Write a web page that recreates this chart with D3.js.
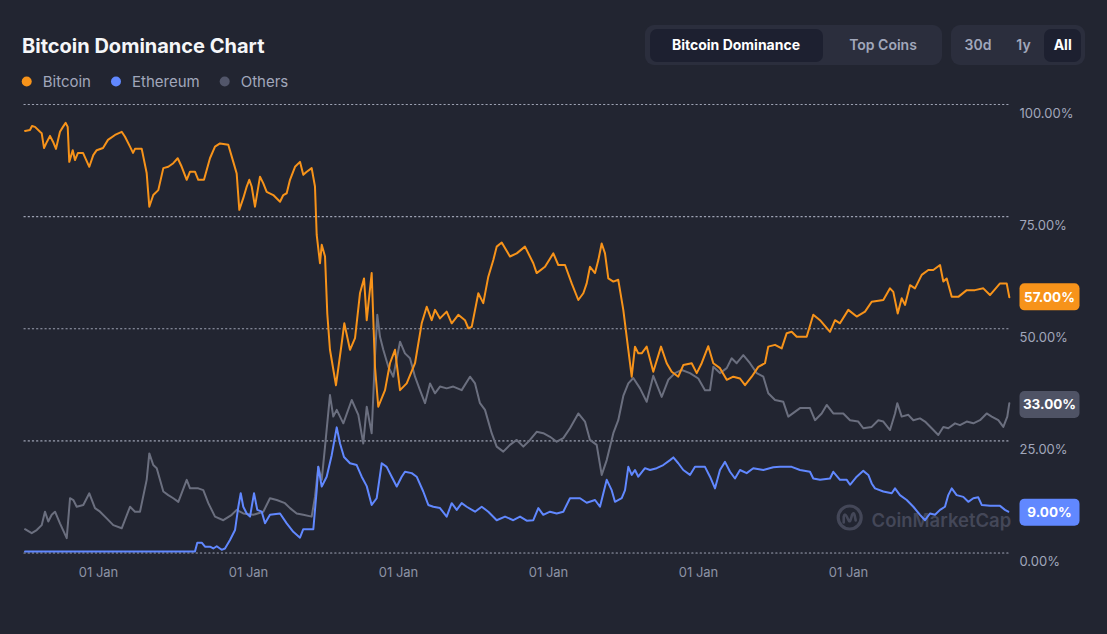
<!DOCTYPE html>
<html><head><meta charset="utf-8">
<script src="https://cdn.jsdelivr.net/npm/d3@7"></script>
<style>
html,body{margin:0;padding:0;background:#222531;}
svg{display:block;font-family:Inter,"Noto Sans",sans-serif;}
</style></head><body>
<svg id="chart" width="1107" height="634"></svg>
<script>
// ---------- DATA (decimal year, dominance %) ----------
const seriesNames = ["Bitcoin", "Ethereum", "Others"];
const bitcoin = [
[2013.027,94.0],[2013.093,94.2],[2013.120,95.1],[2013.160,94.9],[2013.227,93.8],[2013.249,93.5],[2013.280,90.2],[2013.320,91.6],[2013.360,92.9],[2013.400,91.6],[2013.440,90.0],[2013.493,93.8],[2013.533,94.9],[2013.569,95.8],[2013.596,94.9],[2013.617,87.1],[2013.663,89.7],[2013.693,87.5],[2013.733,89.1],[2013.800,89.1],[2013.884,86.0],[2013.937,88.6],[2013.983,89.7],[2014.067,90.2],[2014.133,92.0],[2014.227,93.1],[2014.316,93.8],[2014.360,92.7],[2014.427,90.5],[2014.467,89.1],[2014.493,90.0],[2014.583,90.0],[2014.649,84.6],[2014.684,77.1],[2014.737,79.7],[2014.804,80.8],[2014.871,85.7],[2014.937,86.0],[2015.004,86.8],[2015.063,87.9],[2015.116,86.0],[2015.183,83.1],[2015.227,84.9],[2015.293,84.9],[2015.337,83.1],[2015.413,83.1],[2015.493,87.9],[2015.560,90.5],[2015.627,91.2],[2015.737,90.9],[2015.804,87.1],[2015.849,84.5],[2015.884,76.4],[2015.937,79.0],[2015.983,81.6],[2016.017,83.1],[2016.049,81.6],[2016.093,77.1],[2016.160,83.8],[2016.204,82.3],[2016.249,80.4],[2016.337,79.7],[2016.427,78.2],[2016.471,79.7],[2016.516,80.1],[2016.560,83.1],[2016.627,86.0],[2016.693,87.1],[2016.737,84.2],[2016.783,84.9],[2016.849,85.7],[2016.893,81.6],[2016.916,70.8],[2016.960,64.5],[2016.983,68.6],[2017.027,66.0],[2017.057,53.3],[2017.093,45.2],[2017.173,37.3],[2017.249,46.6],[2017.284,51.1],[2017.360,45.2],[2017.427,47.8],[2017.493,57.8],[2017.547,61.1],[2017.583,51.8],[2017.649,62.3],[2017.693,41.4],[2017.737,32.5],[2017.827,36.2],[2017.893,42.2],[2017.960,45.2],[2018.027,36.2],[2018.116,37.7],[2018.227,42.2],[2018.316,51.1],[2018.383,54.8],[2018.449,51.8],[2018.493,54.1],[2018.560,52.2],[2018.649,53.7],[2018.716,51.1],[2018.804,53.0],[2018.893,51.8],[2018.937,50.0],[2018.983,50.3],[2019.071,57.8],[2019.137,55.6],[2019.204,61.5],[2019.271,65.2],[2019.316,68.2],[2019.383,69.1],[2019.493,66.0],[2019.583,66.7],[2019.693,68.2],[2019.804,64.5],[2019.849,62.3],[2019.960,63.7],[2020.071,66.7],[2020.137,64.1],[2020.227,64.1],[2020.316,60.0],[2020.404,56.3],[2020.471,57.8],[2020.516,60.0],[2020.560,63.7],[2020.627,62.3],[2020.671,65.2],[2020.716,68.9],[2020.760,66.7],[2020.804,61.1],[2020.871,60.4],[2020.937,60.8],[2021.004,54.1],[2021.071,45.2],[2021.116,39.2],[2021.160,45.9],[2021.204,44.4],[2021.249,44.4],[2021.316,45.9],[2021.404,40.3],[2021.507,45.9],[2021.583,42.2],[2021.649,40.3],[2021.737,39.2],[2021.804,41.8],[2021.916,42.2],[2021.983,40.0],[2022.049,42.2],[2022.137,46.0],[2022.204,42.2],[2022.293,41.1],[2022.383,38.5],[2022.471,39.2],[2022.560,38.8],[2022.627,37.3],[2022.716,39.2],[2022.804,41.4],[2022.893,42.2],[2022.937,45.9],[2023.027,46.3],[2023.116,45.5],[2023.183,48.9],[2023.249,49.2],[2023.316,48.1],[2023.449,48.1],[2023.537,53.0],[2023.627,51.8],[2023.760,49.2],[2023.827,51.8],[2023.893,51.1],[2024.004,54.1],[2024.116,52.6],[2024.227,53.7],[2024.316,55.9],[2024.471,56.3],[2024.560,58.9],[2024.604,58.1],[2024.663,53.3],[2024.716,56.7],[2024.760,55.2],[2024.827,59.6],[2024.893,58.9],[2024.983,61.9],[2025.071,63.0],[2025.137,63.0],[2025.227,64.1],[2025.271,60.4],[2025.316,61.1],[2025.383,57.0],[2025.471,57.0],[2025.583,58.5],[2025.693,58.5],[2025.804,58.9],[2025.893,57.4],[2026.027,60.0],[2026.116,60.0],[2026.151,56.9]
];
const ethereum = [
[2013.027,0.2],[2015.293,0.2],[2015.324,2.2],[2015.383,2.2],[2015.427,1.3],[2015.493,1.3],[2015.537,0.9],[2015.583,1.4],[2015.649,0.6],[2015.693,0.9],[2015.760,2.8],[2015.827,5.0],[2015.871,10.2],[2015.903,13.2],[2015.937,10.2],[2015.983,8.7],[2016.027,8.0],[2016.080,13.2],[2016.124,9.5],[2016.183,9.1],[2016.227,6.5],[2016.293,8.4],[2016.427,8.7],[2016.516,6.5],[2016.604,4.6],[2016.693,3.3],[2016.737,5.2],[2016.871,5.2],[2016.916,13.9],[2016.937,19.1],[2016.983,14.7],[2017.049,16.9],[2017.116,21.7],[2017.183,27.9],[2017.227,24.3],[2017.280,21.3],[2017.360,19.9],[2017.449,19.5],[2017.516,16.9],[2017.583,14.8],[2017.649,10.6],[2017.716,12.1],[2017.783,19.9],[2017.849,19.1],[2017.916,16.9],[2017.983,14.7],[2018.049,16.9],[2018.093,18.0],[2018.183,17.7],[2018.249,16.9],[2018.337,13.6],[2018.404,10.6],[2018.471,10.2],[2018.560,9.9],[2018.649,8.0],[2018.716,11.0],[2018.783,9.5],[2018.849,11.0],[2018.916,10.2],[2019.027,9.1],[2019.116,10.2],[2019.204,9.1],[2019.316,7.2],[2019.427,8.0],[2019.537,7.2],[2019.627,8.0],[2019.716,7.1],[2019.804,7.2],[2019.871,9.9],[2019.937,8.4],[2020.027,9.1],[2020.116,8.7],[2020.204,9.1],[2020.293,12.1],[2020.427,12.1],[2020.516,11.1],[2020.627,11.7],[2020.693,10.2],[2020.783,16.2],[2020.849,13.9],[2020.893,11.3],[2020.983,12.1],[2021.027,13.9],[2021.071,19.1],[2021.116,17.3],[2021.160,18.4],[2021.204,16.9],[2021.293,18.8],[2021.360,18.4],[2021.449,18.8],[2021.537,19.5],[2021.627,20.6],[2021.671,21.2],[2021.737,19.9],[2021.804,18.4],[2021.893,17.3],[2021.960,19.1],[2022.093,19.1],[2022.160,16.9],[2022.227,14.3],[2022.293,18.4],[2022.360,20.2],[2022.427,18.0],[2022.493,16.5],[2022.560,18.4],[2022.649,17.7],[2022.737,18.8],[2022.871,18.4],[2023.004,19.0],[2023.093,19.1],[2023.249,19.1],[2023.360,18.4],[2023.493,18.0],[2023.537,16.5],[2023.627,16.2],[2023.760,16.5],[2023.804,18.0],[2023.893,16.2],[2023.983,16.2],[2024.027,15.1],[2024.116,16.9],[2024.204,18.2],[2024.271,17.3],[2024.316,15.4],[2024.360,14.3],[2024.471,13.6],[2024.583,13.2],[2024.627,14.3],[2024.693,12.8],[2024.783,11.7],[2024.871,10.2],[2024.960,8.4],[2025.027,7.2],[2025.093,8.7],[2025.160,8.4],[2025.227,9.5],[2025.293,10.2],[2025.337,12.8],[2025.383,14.3],[2025.449,12.8],[2025.537,12.4],[2025.604,11.3],[2025.671,12.1],[2025.737,12.3],[2025.783,10.6],[2025.893,10.4],[2026.027,10.4],[2026.093,9.5],[2026.137,9.1]
];
const others = [
[2013.027,5.2],[2013.116,4.3],[2013.183,5.0],[2013.249,6.1],[2013.293,9.1],[2013.337,6.9],[2013.383,8.4],[2013.427,9.1],[2013.493,6.5],[2013.583,3.2],[2013.627,12.1],[2013.671,11.7],[2013.716,10.2],[2013.804,10.6],[2013.884,13.2],[2013.960,9.9],[2014.027,9.1],[2014.116,7.6],[2014.204,6.1],[2014.316,5.4],[2014.427,10.2],[2014.493,9.1],[2014.560,9.1],[2014.649,16.2],[2014.684,22.1],[2014.737,19.5],[2014.783,18.8],[2014.871,13.6],[2014.937,12.8],[2015.004,12.1],[2015.071,11.3],[2015.183,16.2],[2015.227,14.3],[2015.337,14.3],[2015.404,13.9],[2015.471,11.0],[2015.560,8.0],[2015.671,7.2],[2015.783,8.4],[2015.849,9.5],[2015.937,8.7],[2016.071,8.4],[2016.204,9.1],[2016.293,12.1],[2016.383,11.7],[2016.493,11.0],[2016.560,9.9],[2016.649,8.7],[2016.737,8.4],[2016.849,8.0],[2016.893,12.4],[2016.937,19.1],[2016.983,16.2],[2017.027,23.6],[2017.093,35.1],[2017.137,30.3],[2017.183,31.8],[2017.271,28.8],[2017.383,34.0],[2017.471,30.7],[2017.537,24.3],[2017.583,32.5],[2017.649,26.6],[2017.693,43.7],[2017.724,53.0],[2017.760,48.1],[2017.804,45.2],[2017.871,41.4],[2017.937,39.2],[2018.027,47.0],[2018.093,44.4],[2018.160,43.3],[2018.227,39.2],[2018.293,36.2],[2018.360,33.3],[2018.427,37.7],[2018.493,35.5],[2018.560,37.0],[2018.649,36.6],[2018.737,37.0],[2018.849,36.2],[2018.960,39.2],[2019.027,37.7],[2019.093,33.3],[2019.160,31.8],[2019.249,26.6],[2019.316,23.6],[2019.404,22.5],[2019.493,24.0],[2019.583,25.1],[2019.671,23.6],[2019.760,25.1],[2019.849,26.9],[2019.937,26.6],[2020.027,25.8],[2020.116,24.7],[2020.204,25.5],[2020.293,27.7],[2020.404,31.0],[2020.493,29.2],[2020.560,25.1],[2020.649,24.0],[2020.716,17.3],[2020.783,20.6],[2020.871,26.6],[2020.937,29.5],[2021.004,34.9],[2021.071,37.7],[2021.137,38.9],[2021.227,36.6],[2021.316,33.6],[2021.404,39.4],[2021.516,34.7],[2021.604,38.5],[2021.693,40.0],[2021.783,40.7],[2021.893,40.0],[2022.004,38.8],[2022.093,36.2],[2022.160,36.2],[2022.204,41.4],[2022.293,40.0],[2022.383,41.1],[2022.449,43.3],[2022.516,42.2],[2022.604,44.0],[2022.693,42.2],[2022.783,40.0],[2022.871,39.2],[2022.937,35.5],[2023.027,34.0],[2023.137,33.6],[2023.204,30.3],[2023.360,32.2],[2023.493,32.2],[2023.560,29.5],[2023.649,31.0],[2023.716,32.9],[2023.804,31.0],[2023.937,31.0],[2024.027,29.5],[2024.137,29.2],[2024.204,27.7],[2024.316,28.0],[2024.404,29.5],[2024.471,29.2],[2024.560,27.3],[2024.627,31.0],[2024.657,33.3],[2024.716,30.3],[2024.804,30.7],[2024.871,29.5],[2024.960,29.9],[2025.027,29.2],[2025.116,27.7],[2025.204,26.2],[2025.271,28.0],[2025.337,27.7],[2025.427,28.8],[2025.493,28.4],[2025.583,29.2],[2025.671,28.8],[2025.760,29.5],[2025.849,31.0],[2025.916,30.3],[2026.004,29.5],[2026.071,28.0],[2026.124,30.3],[2026.151,33.3]
];
const latestValues = [57, 9, 33];
const yTicks = [0, 25, 50, 75, 100];
const xTicks = [2014, 2016, 2018, 2020, 2022, 2024];
const xTickLabels = ["01 Jan", "01 Jan", "01 Jan", "01 Jan", "01 Jan", "01 Jan"];
const tabLabels = ["Bitcoin Dominance", "Top Coins"];
const rangeLabels = ["30d", "1y", "All"];
const titleText = "Bitcoin Dominance Chart";

// ---------- STYLE ----------
const colors = {Bitcoin: "#f7931a", Ethereum: "#6188ff", Others: "#6b6f7f"};
const dotColors = {Bitcoin: "#f7931a", Ethereum: "#6188ff", Others: "#52566a"};
const badgeColors = {Bitcoin: "#f7931a", Ethereum: "#6188ff", Others: "#4f5365"};
const seriesData = {Bitcoin: bitcoin, Ethereum: ethereum, Others: others};

const svg = d3.select("#chart");
svg.append("rect").attr("width", 1107).attr("height", 634).attr("fill", "#222531");

const x = d3.scaleLinear().domain([2013, 2026.2]).range([23, 1013]);
const y = d3.scaleLinear().domain([0, 100]).range([552.5, 104]);
const plotL = 24, plotR = 1008;

// Title
svg.append("text").attr("x", 22).attr("y", 52.5).text(titleText)
  .attr("fill", "#f5f6f8").attr("font-size", 20).attr("font-weight", 700);

// Legend
let cursor = 21.7;
seriesNames.forEach(n => {
  const cx = cursor + 5;
  svg.append("circle").attr("cx", cx).attr("cy", 81.5).attr("r", 5).attr("fill", dotColors[n]);
  const t = svg.append("text").attr("x", cx + 16).attr("y", 86.5).text(n)
    .attr("fill", "#a1a7bb").attr("font-size", 15);
  cursor = cx + 16 + t.node().getComputedTextLength() + 20;
});

// Tabs
const tabG = svg.append("g");
tabG.append("rect").attr("x", 645).attr("y", 25).attr("width", 297).attr("height", 40).attr("rx", 9).attr("fill", "#2b2e3d");
tabG.append("rect").attr("x", 650).attr("y", 29).attr("width", 173).attr("height", 33).attr("rx", 7).attr("fill", "#1d2030");
const tabCenters = [736, 883];
tabLabels.forEach((l, i) => {
  tabG.append("text").attr("x", tabCenters[i]).attr("y", 50).attr("text-anchor", "middle").text(l)
    .attr("font-size", 14).attr("font-weight", i === 0 ? 700 : 600)
    .attr("fill", i === 0 ? "#ffffff" : "#a1a7bb");
});
tabG.append("rect").attr("x", 951).attr("y", 25).attr("width", 134).attr("height", 40).attr("rx", 9).attr("fill", "#2b2e3d");
tabG.append("rect").attr("x", 1044).attr("y", 29).attr("width", 37).attr("height", 33).attr("rx", 7).attr("fill", "#1d2030");
const rangeCenters = [978, 1023.5, 1062.7];
rangeLabels.forEach((l, i) => {
  tabG.append("text").attr("x", rangeCenters[i]).attr("y", 50).attr("text-anchor", "middle").text(l)
    .attr("font-size", 14).attr("font-weight", i === 2 ? 700 : 600)
    .attr("fill", i === 2 ? "#ffffff" : "#a1a7bb");
});

// Y axis with dotted grid
const yAxis = d3.axisRight(y).tickValues(yTicks)
  .tickFormat(d => d.toFixed(2) + "%").tickSize(-(plotR - plotL)).tickPadding(11.5);
const yg = svg.append("g").attr("transform", `translate(${plotR},0)`).call(yAxis);
yg.select(".domain").remove();
yg.selectAll(".tick line").attr("stroke", "#9ea3b4").attr("stroke-width", 1.2)
  .attr("stroke-dasharray", "1.2,3").attr("stroke-linecap", "round");
yg.selectAll(".tick text").attr("fill", "#a1a7bb").attr("font-size", 13).attr("dy", "1em")
  .attr("font-family", "Inter,'Noto Sans',sans-serif");

// X axis
const xAxis = d3.axisBottom(x).tickValues(xTicks)
  .tickFormat((d, i) => xTickLabels[i]).tickSize(0).tickPadding(15);
const xg = svg.append("g").attr("transform", "translate(0,553)").call(xAxis);
xg.select(".domain").remove();
xg.selectAll(".tick text").attr("fill", "#8d93a6").attr("font-size", 13)
  .attr("font-family", "Inter,'Noto Sans',sans-serif");

// Watermark
const wm = svg.append("g").attr("transform", "translate(849.7,517.5)").attr("opacity", 0.85);
wm.append("circle").attr("r", 11.5).attr("fill", "none").attr("stroke", "#4a4e5f").attr("stroke-width", 3.2);
wm.append("path").attr("d", "M-6,5 L-6,-1 Q-5,-5 -3,-1 L-1,3 Q0,5 1,2 L2.5,-3 Q4,-6 5,-2 L6,3")
  .attr("fill", "none").attr("stroke", "#4a4e5f").attr("stroke-width", 2.6).attr("stroke-linecap", "round");
svg.append("text").attr("x", 871.5).attr("y", 526.5).text("CoinMarketCap")
  .attr("font-size", 18.5).attr("font-weight", 600).attr("fill", "#4a4e5f").attr("opacity", 0.85);

// Lines
const line = d3.line().x(d => x(d[0])).y(d => y(d[1])).curve(d3.curveLinear);
["Others", "Ethereum", "Bitcoin"].forEach(n => {
  svg.append("path").datum(seriesData[n]).attr("d", line)
    .attr("fill", "none").attr("stroke", colors[n]).attr("stroke-width", 2)
    .attr("stroke-linejoin", "round").attr("stroke-linecap", "round");
});

// Badges
seriesNames.forEach((n, i) => {
  const v = latestValues[i];
  const cy = y(v);
  svg.append("rect").attr("x", 1019.5).attr("y", cy - 13.5).attr("width", 60).attr("height", 27)
    .attr("rx", 5).attr("fill", badgeColors[n]);
  svg.append("text").attr("x", 1049.5).attr("y", cy + 5).attr("text-anchor", "middle")
    .text(v.toFixed(2) + "%").attr("fill", "#ffffff").attr("font-size", 13.5).attr("font-weight", 700);
});
</script>
</body></html>
